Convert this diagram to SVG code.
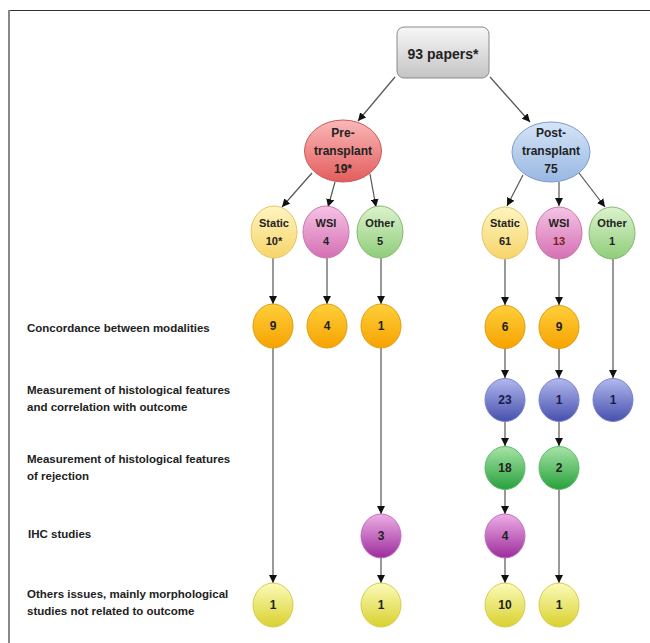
<svg xmlns="http://www.w3.org/2000/svg" width="650" height="643" viewBox="0 0 650 643">
<defs>
<linearGradient id="gBox" x1="0" y1="0" x2="0" y2="1"><stop offset="0" stop-color="#f7f7f7"/><stop offset="1" stop-color="#c4c4c4"/></linearGradient>
<linearGradient id="gRed" x1="0" y1="0" x2="0" y2="1"><stop offset="0" stop-color="#fab8b8"/><stop offset="1" stop-color="#e35d5d"/></linearGradient>
<linearGradient id="gBlueE" x1="0" y1="0" x2="0" y2="1"><stop offset="0" stop-color="#d6e5f7"/><stop offset="1" stop-color="#98b7e2"/></linearGradient>
<linearGradient id="gStatic" x1="0" y1="0" x2="0" y2="1"><stop offset="0" stop-color="#fff5bf"/><stop offset="1" stop-color="#f6d46a"/></linearGradient>
<linearGradient id="gWsi" x1="0" y1="0" x2="0" y2="1"><stop offset="0" stop-color="#f6c3e4"/><stop offset="1" stop-color="#d470b4"/></linearGradient>
<linearGradient id="gOther" x1="0" y1="0" x2="0" y2="1"><stop offset="0" stop-color="#dcf3cc"/><stop offset="1" stop-color="#8fcd7a"/></linearGradient>
<linearGradient id="gOrange" x1="0" y1="0" x2="0" y2="1"><stop offset="0" stop-color="#ffcf3a"/><stop offset="1" stop-color="#f6a300"/></linearGradient>
<linearGradient id="gBlue" x1="0" y1="0" x2="0" y2="1"><stop offset="0" stop-color="#b2b8ee"/><stop offset="1" stop-color="#4650ad"/></linearGradient>
<linearGradient id="gGreen" x1="0" y1="0" x2="0" y2="1"><stop offset="0" stop-color="#a6e4a6"/><stop offset="1" stop-color="#28a03c"/></linearGradient>
<linearGradient id="gPurple" x1="0" y1="0" x2="0" y2="1"><stop offset="0" stop-color="#eeaee6"/><stop offset="1" stop-color="#9c2c9c"/></linearGradient>
<linearGradient id="gYellow" x1="0" y1="0" x2="0" y2="1"><stop offset="0" stop-color="#fbfbba"/><stop offset="1" stop-color="#d9d12e"/></linearGradient>
<marker id="arr" markerUnits="userSpaceOnUse" markerWidth="8" markerHeight="8" refX="8" refY="4" orient="auto"><path d="M0,0 L8,4 L0,8 z" fill="#111"/></marker>
<style>
text{font-family:"Liberation Sans",Arial,sans-serif;font-weight:bold;fill:#222}
.lbl{font-size:11.5px;text-anchor:start}
.n{font-size:12px;text-anchor:middle}
.s{font-size:11px;text-anchor:middle}
.c line{stroke:#555;stroke-width:1.2;marker-end:url(#arr)}
ellipse{stroke-width:1}
</style>
</defs>
<rect width="650" height="643" fill="#fff"/>
<line x1="8" y1="10.5" x2="650" y2="10.5" stroke="#333" stroke-width="1"/>
<line x1="9" y1="10" x2="9" y2="643" stroke="#888" stroke-width="2"/>

<g id="labels">
<text class="lbl" x="27" y="332">Concordance between modalities</text>
<text class="lbl" x="27" y="394">Measurement of histological features</text>
<text class="lbl" x="27" y="411">and correlation with outcome</text>
<text class="lbl" x="27" y="463">Measurement of histological features</text>
<text class="lbl" x="27" y="480">of rejection</text>
<text class="lbl" x="28" y="538">IHC studies</text>
<text class="lbl" x="27" y="598">Others issues, mainly morphological</text>
<text class="lbl" x="27" y="615">studies not related to outcome</text>
</g>

<g class="c" id="connectors">
<line x1="395" y1="77" x2="358" y2="121"/>
<line x1="490" y1="77" x2="530" y2="122"/>
<line x1="312" y1="173" x2="282" y2="207"/>
<line x1="335" y1="182" x2="328" y2="207"/>
<line x1="370" y1="174" x2="376" y2="207"/>
<line x1="523" y1="175" x2="507" y2="206"/>
<line x1="559" y1="182" x2="559" y2="206"/>
<line x1="579" y1="173" x2="605" y2="207"/>
<line x1="273" y1="258" x2="273" y2="304"/>
<line x1="327" y1="258" x2="327" y2="304"/>
<line x1="381" y1="258" x2="381" y2="304"/>
<line x1="505" y1="259" x2="505" y2="305"/>
<line x1="559" y1="259" x2="559" y2="305"/>
<line x1="613" y1="259" x2="613" y2="378"/>
<line x1="273" y1="348" x2="273" y2="583"/>
<line x1="381" y1="348" x2="381" y2="514"/>
<line x1="381" y1="558" x2="381" y2="583"/>
<line x1="505" y1="348" x2="505" y2="378"/>
<line x1="505" y1="421" x2="505" y2="446"/>
<line x1="505" y1="489" x2="505" y2="514"/>
<line x1="505" y1="558" x2="505" y2="583"/>
<line x1="559" y1="348" x2="559" y2="378"/>
<line x1="559" y1="421" x2="559" y2="446"/>
<line x1="559" y1="489" x2="559" y2="583"/>
</g>

<g id="papers">
<rect x="397" y="27" width="92" height="51" rx="7" fill="url(#gBox)" stroke="#8a8a8a" stroke-width="1"/>
<text x="443" y="59" style="font-size:14px;text-anchor:middle">93 papers*</text>
</g>

<g id="pre">
<ellipse cx="343" cy="151" rx="38.5" ry="31" fill="url(#gRed)" stroke="#c85a5a"/>
<text class="n" x="343" y="137">Pre-</text>
<text class="n" x="343" y="155">transplant</text>
<text class="n" x="343" y="173">19*</text>
</g>
<g id="post">
<ellipse cx="551" cy="152" rx="39" ry="30" fill="url(#gBlueE)" stroke="#7d9dc8"/>
<text class="n" x="551" y="137">Post-</text>
<text class="n" x="551" y="155">transplant</text>
<text class="n" x="551" y="173">75</text>
</g>

<g id="pre-static">
<ellipse cx="274" cy="232" rx="23" ry="26" fill="url(#gStatic)" stroke="#e2c66a"/>
<text class="s" x="274" y="227">Static</text>
<text class="s" x="274" y="245">10*</text>
</g>
<g id="pre-wsi">
<ellipse cx="326" cy="232" rx="23" ry="26" fill="url(#gWsi)" stroke="#c878ac"/>
<text class="s" x="326" y="227">WSI</text>
<text class="s" x="326" y="245">4</text>
</g>
<g id="pre-other">
<ellipse cx="380" cy="232" rx="23" ry="26" fill="url(#gOther)" stroke="#86b874"/>
<text class="s" x="380" y="227">Other</text>
<text class="s" x="380" y="245">5</text>
</g>
<g id="post-static">
<ellipse cx="505" cy="233" rx="23" ry="26" fill="url(#gStatic)" stroke="#e2c66a"/>
<text class="s" x="505" y="227">Static</text>
<text class="s" x="505" y="245">61</text>
</g>
<g id="post-wsi">
<ellipse cx="559" cy="233" rx="23" ry="26" fill="url(#gWsi)" stroke="#c878ac"/>
<text class="s" x="559" y="227">WSI</text>
<text class="s" x="559" y="245" style="fill:#7a2020">13</text>
</g>
<g id="post-other">
<ellipse cx="612" cy="233" rx="23" ry="26" fill="url(#gOther)" stroke="#86b874"/>
<text class="s" x="612" y="227">Other</text>
<text class="s" x="612" y="245">1</text>
</g>

<g id="pre-static-concordance"><ellipse cx="273" cy="326" rx="20" ry="22" fill="url(#gOrange)" stroke="#e39a10"/><text class="n" x="273" y="330">9</text></g>
<g id="pre-wsi-concordance"><ellipse cx="327" cy="326" rx="20" ry="22" fill="url(#gOrange)" stroke="#e39a10"/><text class="n" x="327" y="330">4</text></g>
<g id="pre-other-concordance"><ellipse cx="381" cy="326" rx="20" ry="22" fill="url(#gOrange)" stroke="#e39a10"/><text class="n" x="381" y="330">1</text></g>
<g id="post-static-concordance"><ellipse cx="505" cy="327" rx="20" ry="21.5" fill="url(#gOrange)" stroke="#e39a10"/><text class="n" x="505" y="331">6</text></g>
<g id="post-wsi-concordance"><ellipse cx="559" cy="327" rx="20" ry="21.5" fill="url(#gOrange)" stroke="#e39a10"/><text class="n" x="559" y="331">9</text></g>

<g id="post-static-outcome"><ellipse cx="505" cy="400" rx="20" ry="21.5" fill="url(#gBlue)" stroke="#7a82cc"/><text class="n" x="505" y="404" style="fill:#1a1a4a">23</text></g>
<g id="post-wsi-outcome"><ellipse cx="559" cy="400" rx="20" ry="21.5" fill="url(#gBlue)" stroke="#7a82cc"/><text class="n" x="559" y="404" style="fill:#1a1a4a">1</text></g>
<g id="post-other-outcome"><ellipse cx="613" cy="400" rx="20" ry="21.5" fill="url(#gBlue)" stroke="#7a82cc"/><text class="n" x="613" y="404" style="fill:#1a1a4a">1</text></g>

<g id="post-static-rejection"><ellipse cx="505" cy="468" rx="20" ry="21.5" fill="url(#gGreen)" stroke="#5cbc6a"/><text class="n" x="505" y="472">18</text></g>
<g id="post-wsi-rejection"><ellipse cx="559" cy="468" rx="20" ry="21.5" fill="url(#gGreen)" stroke="#5cbc6a"/><text class="n" x="559" y="472">2</text></g>

<g id="pre-other-ihc"><ellipse cx="381" cy="536" rx="20" ry="22" fill="url(#gPurple)" stroke="#c070c0"/><text class="n" x="381" y="540">3</text></g>
<g id="post-static-ihc"><ellipse cx="505" cy="536" rx="20" ry="22" fill="url(#gPurple)" stroke="#c070c0"/><text class="n" x="505" y="540">4</text></g>

<g id="pre-static-others"><ellipse cx="273" cy="605" rx="20" ry="22" fill="url(#gYellow)" stroke="#d6cc50"/><text class="n" x="273" y="609">1</text></g>
<g id="pre-other-others"><ellipse cx="381" cy="605" rx="20" ry="22" fill="url(#gYellow)" stroke="#d6cc50"/><text class="n" x="381" y="609">1</text></g>
<g id="post-static-others"><ellipse cx="505" cy="605" rx="20" ry="22" fill="url(#gYellow)" stroke="#d6cc50"/><text class="n" x="505" y="609">10</text></g>
<g id="post-wsi-others"><ellipse cx="559" cy="605" rx="20" ry="22" fill="url(#gYellow)" stroke="#d6cc50"/><text class="n" x="559" y="609">1</text></g>
</svg>
